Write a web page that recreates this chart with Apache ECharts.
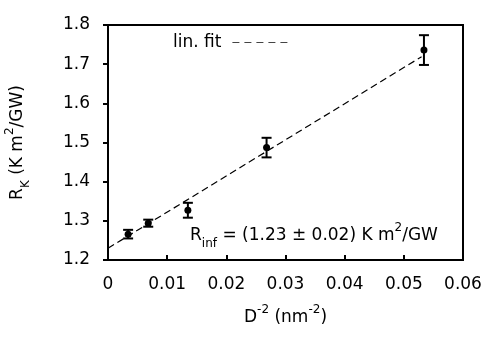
<!DOCTYPE html>
<html>
<head>
<meta charset="utf-8">
<script src="https://cdn.jsdelivr.net/npm/echarts@6/dist/echarts.min.js"></script>
<style>
  html, body { margin: 0; padding: 0; background: #fff; }
  #chart { width: 500px; height: 355px; }
</style>
</head>
<body>
<div id="chart"></div>
<script>
// measured points
const dInv2 = [0.0034, 0.0068, 0.0135, 0.0268, 0.0534]
const rK = [1.266, 1.294, 1.327, 1.487, 1.736]
const rKErr = [0.011, 0.009, 0.019, 0.025, 0.038]
// linear fit end points
const fitX = [0, 0.053]
const fitY = [1.23, 1.719]
const xTicks = ['0', '0.01', '0.02', '0.03', '0.04', '0.05', '0.06']
const yTicks = ['1.2', '1.3', '1.4', '1.5', '1.6', '1.7', '1.8']

const font = 'DejaVu Sans'
const rich = {
  a: { fontFamily: font, fontSize: 17, color: '#000', lineHeight: 28, verticalAlign: 'middle' },
  sub: { fontFamily: font, fontSize: 12, color: '#000', lineHeight: 12, verticalAlign: 'bottom' },
  sup: { fontFamily: font, fontSize: 12, color: '#000', lineHeight: 12, verticalAlign: 'top' },
}

let chart = echarts.init(document.getElementById('chart'))

let option = {
  animation: false,
  grid: {
    left: 108,
    right: 37,
    top: 25,
    bottom: 95,
    outerBoundsMode: 'none',
    containLabel: false,
    show: true,
    borderColor: '#000',
    borderWidth: 2,
  },
  legend: {
    data: ['lin. fit'],
    left: 168,
    top: 29,
    align: 'right',
    itemWidth: 58,
    itemHeight: 10,
    itemStyle: { color: 'transparent', borderWidth: 0, opacity: 0 },
    lineStyle: { color: '#444', width: 1.2, type: [7, 5] },
    textStyle: { fontFamily: font, fontSize: 17, color: '#000', padding: [3, 6, 0, 0] },
  },
  xAxis: {
    type: 'value',
    min: 0,
    max: 0.06,
    interval: 0.01,
    name: '{a|D}{sup|-2}{a| (nm}{sup|-2}{a|)}',
    nameLocation: 'middle',
    nameGap: 44,
    nameTextStyle: { rich: rich },
    axisLine: { lineStyle: { color: '#000', width: 2 } },
    axisTick: { inside: true, length: 5, lineStyle: { color: '#000', width: 2 } },
    axisLabel: {
      margin: 16,
      color: '#000',
      fontFamily: font,
      fontSize: 17,
      formatter: (v) => xTicks[Math.round(v / 0.01)],
    },
    splitLine: { show: false },
  },
  yAxis: {
    type: 'value',
    min: 1.2,
    max: 1.8,
    interval: 0.1,
    name: '{a|R}{sub|K}{a| (K m}{sup|2}{a|/GW)}',
    nameLocation: 'middle',
    nameGap: 76,
    nameTextStyle: { rich: rich },
    axisLine: { show: true, lineStyle: { color: '#000', width: 2 } },
    axisTick: { show: true, length: 5, lineStyle: { color: '#000', width: 2 } },
    axisLabel: {
      margin: 18,
      color: '#000',
      fontFamily: font,
      fontSize: 17,
      formatter: (v) => yTicks[Math.round((v - 1.2) / 0.1)],
    },
    splitLine: { show: false },
  },
  graphic: [
    {
      type: 'text',
      left: 190,
      top: 222,
      style: {
        text: '{a|R}{sub|inf}{a| = (1.23 ± 0.02) K m}{sup|2}{a|/GW}',
        rich: rich,
      },
    },
  ],
  series: [
    {
      name: 'lin. fit',
      type: 'line',
      data: fitX.map((x, i) => [x, fitY[i]]),
      showSymbol: false,
      symbol: 'none',
      lineStyle: { color: '#000', width: 1.2, type: [7, 4] },
      itemStyle: { color: '#000' },
      z: 1,
    },
    {
      name: 'data',
      type: 'custom',
      data: dInv2.map((x, i) => [x, rK[i], rKErr[i]]),
      renderItem: (params, api) => {
        const x = api.value(0)
        const y = api.value(1)
        const e = api.value(2)
        const c = api.coord([x, y])
        const top = api.coord([x, y + e])
        const bot = api.coord([x, y - e])
        const cap = 5
        const st = { stroke: '#000', lineWidth: 2 }
        return {
          type: 'group',
          children: [
            { type: 'line', shape: { x1: c[0], y1: top[1], x2: c[0], y2: bot[1] }, style: st },
            { type: 'line', shape: { x1: c[0] - cap, y1: top[1], x2: c[0] + cap, y2: top[1] }, style: st },
            { type: 'line', shape: { x1: c[0] - cap, y1: bot[1], x2: c[0] + cap, y2: bot[1] }, style: st },
            { type: 'circle', shape: { cx: c[0], cy: c[1], r: 3.5 }, style: { fill: '#000' } },
          ],
        }
      },
      z: 2,
    },
  ],
}

chart.setOption(option)
window.addEventListener('resize', () => {
  chart.resize()
})
</script>
</body>
</html>
